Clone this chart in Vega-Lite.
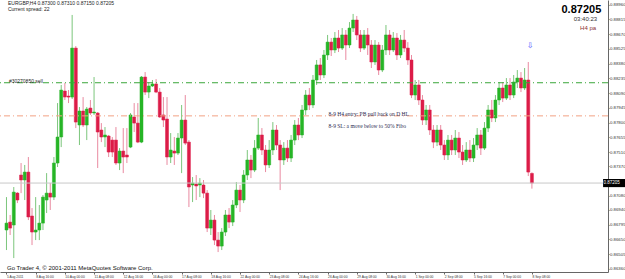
{
 "$schema": "https://vega.github.io/schema/vega-lite/v6.json",
 "width": 608, "height": 272,
 "autosize": {"type": "none"},
 "padding": {"left": 0, "top": 0, "right": 17, "bottom": 7},
 "background": "white",
 "config": {"view": {"stroke": null}, "font": "Liberation Sans"},
 "data": {"values": [{}]},
 "datasets": {
  "candles": [
   {"i":0,"o":0.86743,"h":0.87067,"l":0.86546,"c":0.86811},
   {"i":1,"o":0.86821,"h":0.86891,"l":0.86694,"c":0.86762},
   {"i":2,"o":0.86792,"h":0.87166,"l":0.86467,"c":0.87116},
   {"i":3,"o":0.87106,"h":0.87116,"l":0.87008,"c":0.87038},
   {"i":4,"o":0.87284,"h":0.87402,"l":0.87106,"c":0.87235},
   {"i":5,"o":0.87235,"h":0.87383,"l":0.87038,"c":0.87313},
   {"i":6,"o":0.87313,"h":0.87461,"l":0.86841,"c":0.86871},
   {"i":7,"o":0.86881,"h":0.86959,"l":0.86595,"c":0.86723},
   {"i":8,"o":0.86723,"h":0.87067,"l":0.86644,"c":0.86743},
   {"i":9,"o":0.86743,"h":0.86989,"l":0.86644,"c":0.86811},
   {"i":10,"o":0.86811,"h":0.87087,"l":0.86743,"c":0.87067},
   {"i":11,"o":0.87038,"h":0.87303,"l":0.8691,"c":0.87106},
   {"i":12,"o":0.87106,"h":0.87205,"l":0.8694,"c":0.87067},
   {"i":13,"o":0.87067,"h":0.87461,"l":0.87038,"c":0.87402},
   {"i":14,"o":0.87402,"h":0.87992,"l":0.87363,"c":0.87658},
   {"i":15,"o":0.87658,"h":0.8817,"l":0.87559,"c":0.8812},
   {"i":16,"o":0.8811,"h":0.88189,"l":0.88022,"c":0.88051},
   {"i":17,"o":0.88061,"h":0.8812,"l":0.87992,"c":0.88051},
   {"i":18,"o":0.88051,"h":0.88859,"l":0.88032,"c":0.88533},
   {"i":19,"o":0.88533,"h":0.88553,"l":0.87746,"c":0.87805},
   {"i":20,"o":0.87776,"h":0.87953,"l":0.87579,"c":0.87914},
   {"i":21,"o":0.87914,"h":0.88051,"l":0.87756,"c":0.87776},
   {"i":22,"o":0.87776,"h":0.87953,"l":0.87628,"c":0.87933},
   {"i":23,"o":0.87943,"h":0.88022,"l":0.87875,"c":0.87894},
   {"i":24,"o":0.87894,"h":0.88248,"l":0.87875,"c":0.87904},
   {"i":25,"o":0.87894,"h":0.87904,"l":0.87353,"c":0.87707},
   {"i":26,"o":0.87727,"h":0.87795,"l":0.87608,"c":0.87658},
   {"i":27,"o":0.87658,"h":0.87756,"l":0.87559,"c":0.87678},
   {"i":28,"o":0.87668,"h":0.87678,"l":0.87461,"c":0.8751},
   {"i":29,"o":0.87628,"h":0.87658,"l":0.87461,"c":0.8751},
   {"i":30,"o":0.87628,"h":0.87756,"l":0.87383,"c":0.87402},
   {"i":31,"o":0.87402,"h":0.87549,"l":0.87333,"c":0.8752},
   {"i":32,"o":0.8752,"h":0.87746,"l":0.87303,"c":0.87461},
   {"i":33,"o":0.87481,"h":0.87746,"l":0.87402,"c":0.87461},
   {"i":34,"o":0.87559,"h":0.87894,"l":0.87549,"c":0.87875},
   {"i":35,"o":0.87855,"h":0.87992,"l":0.87707,"c":0.87795},
   {"i":36,"o":0.87795,"h":0.87992,"l":0.87598,"c":0.87608},
   {"i":37,"o":0.87608,"h":0.88258,"l":0.87598,"c":0.88248},
   {"i":38,"o":0.88248,"h":0.88297,"l":0.88071,"c":0.881},
   {"i":39,"o":0.881,"h":0.88199,"l":0.88041,"c":0.8816},
   {"i":40,"o":0.8816,"h":0.88219,"l":0.8815,"c":0.8818},
   {"i":41,"o":0.8818,"h":0.88228,"l":0.8809,"c":0.881},
   {"i":42,"o":0.881,"h":0.8814,"l":0.87845,"c":0.87855},
   {"i":43,"o":0.87875,"h":0.88051,"l":0.87756,"c":0.87825},
   {"i":44,"o":0.87835,"h":0.88051,"l":0.87383,"c":0.87461},
   {"i":45,"o":0.87461,"h":0.87697,"l":0.87402,"c":0.8753},
   {"i":46,"o":0.8752,"h":0.87658,"l":0.87383,"c":0.875},
   {"i":47,"o":0.875,"h":0.87697,"l":0.87481,"c":0.87648},
   {"i":48,"o":0.87648,"h":0.87973,"l":0.87303,"c":0.87825},
   {"i":49,"o":0.87825,"h":0.88071,"l":0.87579,"c":0.87598},
   {"i":50,"o":0.87608,"h":0.87628,"l":0.86969,"c":0.87166},
   {"i":51,"o":0.87186,"h":0.87264,"l":0.87018,"c":0.87205},
   {"i":52,"o":0.87196,"h":0.87284,"l":0.87038,"c":0.87176},
   {"i":53,"o":0.87186,"h":0.87254,"l":0.87067,"c":0.87205},
   {"i":54,"o":0.87186,"h":0.87235,"l":0.87057,"c":0.87106},
   {"i":55,"o":0.87106,"h":0.87136,"l":0.86723,"c":0.86762},
   {"i":56,"o":0.86762,"h":0.8694,"l":0.86694,"c":0.86841},
   {"i":57,"o":0.86841,"h":0.86891,"l":0.86595,"c":0.86644},
   {"i":58,"o":0.86644,"h":0.86723,"l":0.86526,"c":0.86585},
   {"i":59,"o":0.86585,"h":0.86762,"l":0.86546,"c":0.86723},
   {"i":60,"o":0.86723,"h":0.8694,"l":0.86684,"c":0.86891},
   {"i":61,"o":0.86891,"h":0.86959,"l":0.86762,"c":0.86821},
   {"i":62,"o":0.86821,"h":0.87038,"l":0.86782,"c":0.86989},
   {"i":63,"o":0.86989,"h":0.87215,"l":0.86959,"c":0.87136},
   {"i":64,"o":0.87136,"h":0.87186,"l":0.8692,"c":0.87038},
   {"i":65,"o":0.87038,"h":0.87333,"l":0.87008,"c":0.87284},
   {"i":66,"o":0.87284,"h":0.8753,"l":0.87235,"c":0.87432},
   {"i":67,"o":0.87432,"h":0.87481,"l":0.87254,"c":0.87333},
   {"i":68,"o":0.87333,"h":0.87628,"l":0.87313,"c":0.87549},
   {"i":69,"o":0.87549,"h":0.87845,"l":0.8753,"c":0.87678},
   {"i":70,"o":0.87678,"h":0.87746,"l":0.87481,"c":0.8753},
   {"i":71,"o":0.8753,"h":0.87579,"l":0.87313,"c":0.87383},
   {"i":72,"o":0.87383,"h":0.87628,"l":0.87353,"c":0.8753},
   {"i":73,"o":0.8753,"h":0.87805,"l":0.87481,"c":0.87727},
   {"i":74,"o":0.87727,"h":0.87776,"l":0.8753,"c":0.87579},
   {"i":75,"o":0.87579,"h":0.87628,"l":0.87136,"c":0.87432},
   {"i":76,"o":0.87432,"h":0.87608,"l":0.87383,"c":0.87549},
   {"i":77,"o":0.87549,"h":0.87628,"l":0.87412,"c":0.87451},
   {"i":78,"o":0.87451,"h":0.87678,"l":0.87412,"c":0.87628},
   {"i":79,"o":0.87628,"h":0.87825,"l":0.87579,"c":0.87776},
   {"i":80,"o":0.87776,"h":0.87845,"l":0.87628,"c":0.87678},
   {"i":81,"o":0.87678,"h":0.87973,"l":0.87648,"c":0.87924},
   {"i":82,"o":0.87924,"h":0.8812,"l":0.87875,"c":0.88071},
   {"i":83,"o":0.88071,"h":0.8814,"l":0.87924,"c":0.87973},
   {"i":84,"o":0.87973,"h":0.88268,"l":0.87943,"c":0.88219},
   {"i":85,"o":0.88219,"h":0.88416,"l":0.8817,"c":0.88367},
   {"i":86,"o":0.88367,"h":0.88435,"l":0.88219,"c":0.88268},
   {"i":87,"o":0.88268,"h":0.88514,"l":0.88238,"c":0.88465},
   {"i":88,"o":0.88465,"h":0.88662,"l":0.88416,"c":0.88592},
   {"i":89,"o":0.88592,"h":0.88632,"l":0.88455,"c":0.88514},
   {"i":90,"o":0.88514,"h":0.88691,"l":0.88484,"c":0.88632},
   {"i":91,"o":0.88632,"h":0.88711,"l":0.88494,"c":0.88533},
   {"i":92,"o":0.88533,"h":0.8873,"l":0.88514,"c":0.88662},
   {"i":93,"o":0.88662,"h":0.88711,"l":0.88416,"c":0.88563},
   {"i":94,"o":0.88563,"h":0.88789,"l":0.88533,"c":0.8873},
   {"i":95,"o":0.8873,"h":0.88869,"l":0.88691,"c":0.88809},
   {"i":96,"o":0.88809,"h":0.88849,"l":0.88612,"c":0.88662},
   {"i":97,"o":0.88662,"h":0.88711,"l":0.88494,"c":0.88533},
   {"i":98,"o":0.88533,"h":0.88711,"l":0.88514,"c":0.88662},
   {"i":99,"o":0.88662,"h":0.8873,"l":0.88465,"c":0.88563},
   {"i":100,"o":0.88563,"h":0.88612,"l":0.88337,"c":0.88396},
   {"i":101,"o":0.88396,"h":0.88612,"l":0.88367,"c":0.88563},
   {"i":102,"o":0.88563,"h":0.88592,"l":0.88268,"c":0.88317},
   {"i":103,"o":0.88317,"h":0.88563,"l":0.88297,"c":0.88514},
   {"i":104,"o":0.88514,"h":0.8876,"l":0.88465,"c":0.88662},
   {"i":105,"o":0.88662,"h":0.88711,"l":0.88465,"c":0.88514},
   {"i":106,"o":0.88514,"h":0.88691,"l":0.88494,"c":0.88632},
   {"i":107,"o":0.88632,"h":0.88681,"l":0.88416,"c":0.88465},
   {"i":108,"o":0.88465,"h":0.88662,"l":0.88435,"c":0.88612},
   {"i":109,"o":0.88612,"h":0.88711,"l":0.88494,"c":0.88533},
   {"i":110,"o":0.88533,"h":0.88592,"l":0.88367,"c":0.88416},
   {"i":111,"o":0.88416,"h":0.88465,"l":0.88041,"c":0.88071},
   {"i":112,"o":0.88071,"h":0.88219,"l":0.88022,"c":0.8817},
   {"i":113,"o":0.8817,"h":0.88219,"l":0.87973,"c":0.88022},
   {"i":114,"o":0.88022,"h":0.88071,"l":0.87776,"c":0.87825},
   {"i":115,"o":0.87825,"h":0.87973,"l":0.87776,"c":0.87924},
   {"i":116,"o":0.87924,"h":0.87973,"l":0.87678,"c":0.87727},
   {"i":117,"o":0.87727,"h":0.87776,"l":0.87549,"c":0.87608},
   {"i":118,"o":0.87608,"h":0.87776,"l":0.87569,"c":0.87727},
   {"i":119,"o":0.87727,"h":0.87776,"l":0.8753,"c":0.87579},
   {"i":120,"o":0.87579,"h":0.87628,"l":0.87432,"c":0.87481},
   {"i":121,"o":0.87481,"h":0.87678,"l":0.87432,"c":0.87628},
   {"i":122,"o":0.87628,"h":0.87678,"l":0.87481,"c":0.8753},
   {"i":123,"o":0.8753,"h":0.87727,"l":0.87481,"c":0.87648},
   {"i":124,"o":0.87648,"h":0.87707,"l":0.87451,"c":0.8751},
   {"i":125,"o":0.8751,"h":0.87579,"l":0.87383,"c":0.87432},
   {"i":126,"o":0.87432,"h":0.87608,"l":0.87412,"c":0.8753},
   {"i":127,"o":0.8753,"h":0.87628,"l":0.87412,"c":0.87451},
   {"i":128,"o":0.87451,"h":0.87648,"l":0.87412,"c":0.87579},
   {"i":129,"o":0.87579,"h":0.87746,"l":0.8753,"c":0.87678},
   {"i":130,"o":0.87678,"h":0.87727,"l":0.87481,"c":0.87549},
   {"i":131,"o":0.87549,"h":0.87805,"l":0.8753,"c":0.87746},
   {"i":132,"o":0.87746,"h":0.87973,"l":0.87707,"c":0.87924},
   {"i":133,"o":0.87924,"h":0.88022,"l":0.87805,"c":0.87845},
   {"i":134,"o":0.87845,"h":0.88071,"l":0.87805,"c":0.88022},
   {"i":135,"o":0.88022,"h":0.88199,"l":0.87973,"c":0.8814},
   {"i":136,"o":0.8814,"h":0.88199,"l":0.88002,"c":0.88041},
   {"i":137,"o":0.88041,"h":0.88238,"l":0.88022,"c":0.8817},
   {"i":138,"o":0.8817,"h":0.88238,"l":0.88022,"c":0.88071},
   {"i":139,"o":0.88071,"h":0.88268,"l":0.88041,"c":0.88199},
   {"i":140,"o":0.88199,"h":0.88317,"l":0.8814,"c":0.88238},
   {"i":141,"o":0.88238,"h":0.88297,"l":0.881,"c":0.8814},
   {"i":142,"o":0.8814,"h":0.88337,"l":0.8812,"c":0.88219},
   {"i":143,"o":0.88219,"h":0.88396,"l":0.87274,"c":0.87313},
   {"i":144,"o":0.873,"h":0.8731,"l":0.8715,"c":0.87205}
  ]
 },
 "resolve": {"axis": {"x": "independent", "y": "independent"}},
 "layer": [
  {
   "data": {"name": "candles"},
   "mark": {"type": "rule", "strokeWidth": 1},
   "encoding": {
    "x": {"field": "i", "type": "quantitative",
      "scale": {"domain": [-0.404, 163.48], "nice": false, "zero": false},
      "axis": {"orient": "bottom", "title": null, "grid": false, "domain": true, "domainColor": "#666", "domainWidth": 1, "ticks": true, "tickColor": "#666", "tickSize": 2,
        "values": [0,8,16,24,32,40,48,56,64,72,80,88,96,104,112,120,128,136,144],
        "labelExpr": "['5 Aug 2011','8 Aug 16:00','10 Aug 00:00','11 Aug 08:00','12 Aug 16:00','16 Aug 00:00','17 Aug 08:00','18 Aug 16:00','22 Aug 00:00','23 Aug 08:00','24 Aug 16:00','26 Aug 00:00','29 Aug 08:00','30 Aug 16:00','1 Sep 00:00','2 Sep 08:00','5 Sep 16:00','7 Sep 00:00','8 Sep 08:00'][round(datum.value/8)]",
        "labelAlign": "left", "labelBaseline": "top", "labelPadding": 0.5, "labelColor": "#333",
        "labelFontSize": 3.3, "labelFont": "Liberation Sans", "labelOverlap": false, "labelBound": false, "labelFlush": false}},
    "y": {"field": "l", "type": "quantitative",
      "scale": {"domain": [0.8633, 0.89006], "nice": false, "zero": false},
      "axis": {"orient": "right", "title": null, "grid": false, "domain": true, "domainColor": "#666", "domainWidth": 1, "ticks": true, "tickColor": "#666", "tickSize": 1,
        "values": [0.8896,0.88815,0.8867,0.88525,0.8838,0.88235,0.8809,0.87945,0.878,0.87655,0.8751,0.8737,0.8708,0.8694,0.86795,0.8665,0.86505,0.8636],
        "format": ".5f", "labelFontSize": 4.3, "labelPadding": 0.5, "labelColor": "#333", "labelFont": "Liberation Sans", "labelOverlap": false, "labelBound": false, "labelFlush": false}},
    "y2": {"field": "h"},
    "color": {"condition": {"test": "datum.c >= datum.o", "value": "#7cc67c"}, "value": "#e98aa0"}
   }
  },
  {
   "data": {"name": "candles"},
   "mark": {"type": "bar", "size": 3, "strokeWidth": 0.5},
   "encoding": {
    "x": {"field": "i", "type": "quantitative", "axis": null},
    "y": {"field": "o", "type": "quantitative", "axis": null},
    "y2": {"field": "c"},
    "color": {"condition": {"test": "datum.c >= datum.o", "value": "#26b526"}, "value": "#dc1c48"},
    "stroke": {"condition": {"test": "datum.c >= datum.o", "value": "#26b526"}, "value": "#dc1c48"}
   }
  },
  {
   "mark": {"type": "rule", "color": "#c8c8c8", "strokeWidth": 1},
   "encoding": {"y": {"datum": 0.87205, "type": "quantitative", "axis": null}}
  },
  {
   "mark": {"type": "rule", "color": "#3aa63a", "strokeWidth": 1, "strokeDash": [6, 3, 1, 3]},
   "encoding": {"y": {"datum": 0.88192, "type": "quantitative", "axis": null}}
  },
  {
   "mark": {"type": "rule", "color": "#f2a184", "strokeWidth": 1, "strokeDash": [6, 3, 1, 3]},
   "encoding": {"y": {"datum": 0.87866, "type": "quantitative", "axis": null}}
  },
  {
   "mark": {"type": "text", "text": "EURGBP,H4  0.87300 0.87310 0.87150 0.87205", "align": "left", "baseline": "top", "fontSize": 5, "color": "#222"},
   "encoding": {"x": {"datum": 0.4, "type": "quantitative", "axis": null}, "y": {"datum": 0.89001, "type": "quantitative", "axis": null}}
  },
  {
   "mark": {"type": "text", "text": "Current spread: 22", "align": "left", "baseline": "top", "fontSize": 5, "color": "#222"},
   "encoding": {"x": {"datum": 0.4, "type": "quantitative", "axis": null}, "y": {"datum": 0.88942, "type": "quantitative", "axis": null}}
  },
  {
   "mark": {"type": "text", "text": "#30270850 sell", "align": "left", "baseline": "middle", "fontSize": 5, "color": "#222"},
   "encoding": {"x": {"datum": 0.67, "type": "quantitative", "axis": null}, "y": {"datum": 0.88214, "type": "quantitative", "axis": null}}
  },
  {
   "mark": {"type": "text", "text": "0.87205", "align": "right", "baseline": "alphabetic", "fontSize": 11, "fontWeight": "bold", "color": "#000"},
   "encoding": {"x": {"datum": 163.0, "type": "quantitative", "axis": null}, "y": {"datum": 0.88878, "type": "quantitative", "axis": null}}
  },
  {
   "mark": {"type": "text", "text": "03:40:23", "align": "right", "baseline": "middle", "fontSize": 6, "color": "#333"},
   "encoding": {"x": {"datum": 161.86, "type": "quantitative", "axis": null}, "y": {"datum": 0.88819, "type": "quantitative", "axis": null}}
  },
  {
   "mark": {"type": "text", "text": "H4 pa", "align": "right", "baseline": "middle", "fontSize": 6, "color": "#8b3030"},
   "encoding": {"x": {"datum": 161.59, "type": "quantitative", "axis": null}, "y": {"datum": 0.88726, "type": "quantitative", "axis": null}}
  },
  {
   "mark": {"type": "text", "text": "⇩", "align": "center", "baseline": "middle", "fontSize": 8, "font": "DejaVu Sans", "color": "#4a4aff"},
   "encoding": {"x": {"datum": 143.5, "type": "quantitative", "axis": null}, "y": {"datum": 0.88558, "type": "quantitative", "axis": null}}
  },
  {
   "mark": {"type": "text", "text": "8-9 H4 entry: PB pull back on D HL", "align": "left", "baseline": "middle", "fontSize": 5.5, "font": "Liberation Serif", "color": "#2a2a50"},
   "encoding": {"x": {"datum": 88.27, "type": "quantitative", "axis": null}, "y": {"datum": 0.87888, "type": "quantitative", "axis": null}}
  },
  {
   "mark": {"type": "text", "text": "8-9 SL: a move below to 50% Fibo", "align": "left", "baseline": "middle", "fontSize": 5.5, "font": "Liberation Serif", "color": "#2a2a50"},
   "encoding": {"x": {"datum": 88.27, "type": "quantitative", "axis": null}, "y": {"datum": 0.87771, "type": "quantitative", "axis": null}}
  },
  {
   "mark": {"type": "text", "text": "Go Trader 4, © 2001-2011 MetaQuotes Software Corp.", "align": "left", "baseline": "middle", "fontSize": 6, "color": "#111"},
   "encoding": {"x": {"datum": 0.135, "type": "quantitative", "axis": null}, "y": {"datum": 0.86369, "type": "quantitative", "axis": null}}
  },
  {
   "mark": {"type": "rect", "color": "#000"},
   "encoding": {"x": {"datum": 163.5, "type": "quantitative", "axis": null}, "x2": {"datum": 172},
     "y": {"datum": 0.87245, "type": "quantitative", "axis": null}, "y2": {"datum": 0.87165}}
  },
  {
   "mark": {"type": "text", "text": "0.87205", "align": "left", "baseline": "middle", "fontSize": 4.5, "color": "#fff"},
   "encoding": {"x": {"datum": 163.6, "type": "quantitative", "axis": null}, "y": {"datum": 0.87205, "type": "quantitative", "axis": null}}
  }
 ]
}
